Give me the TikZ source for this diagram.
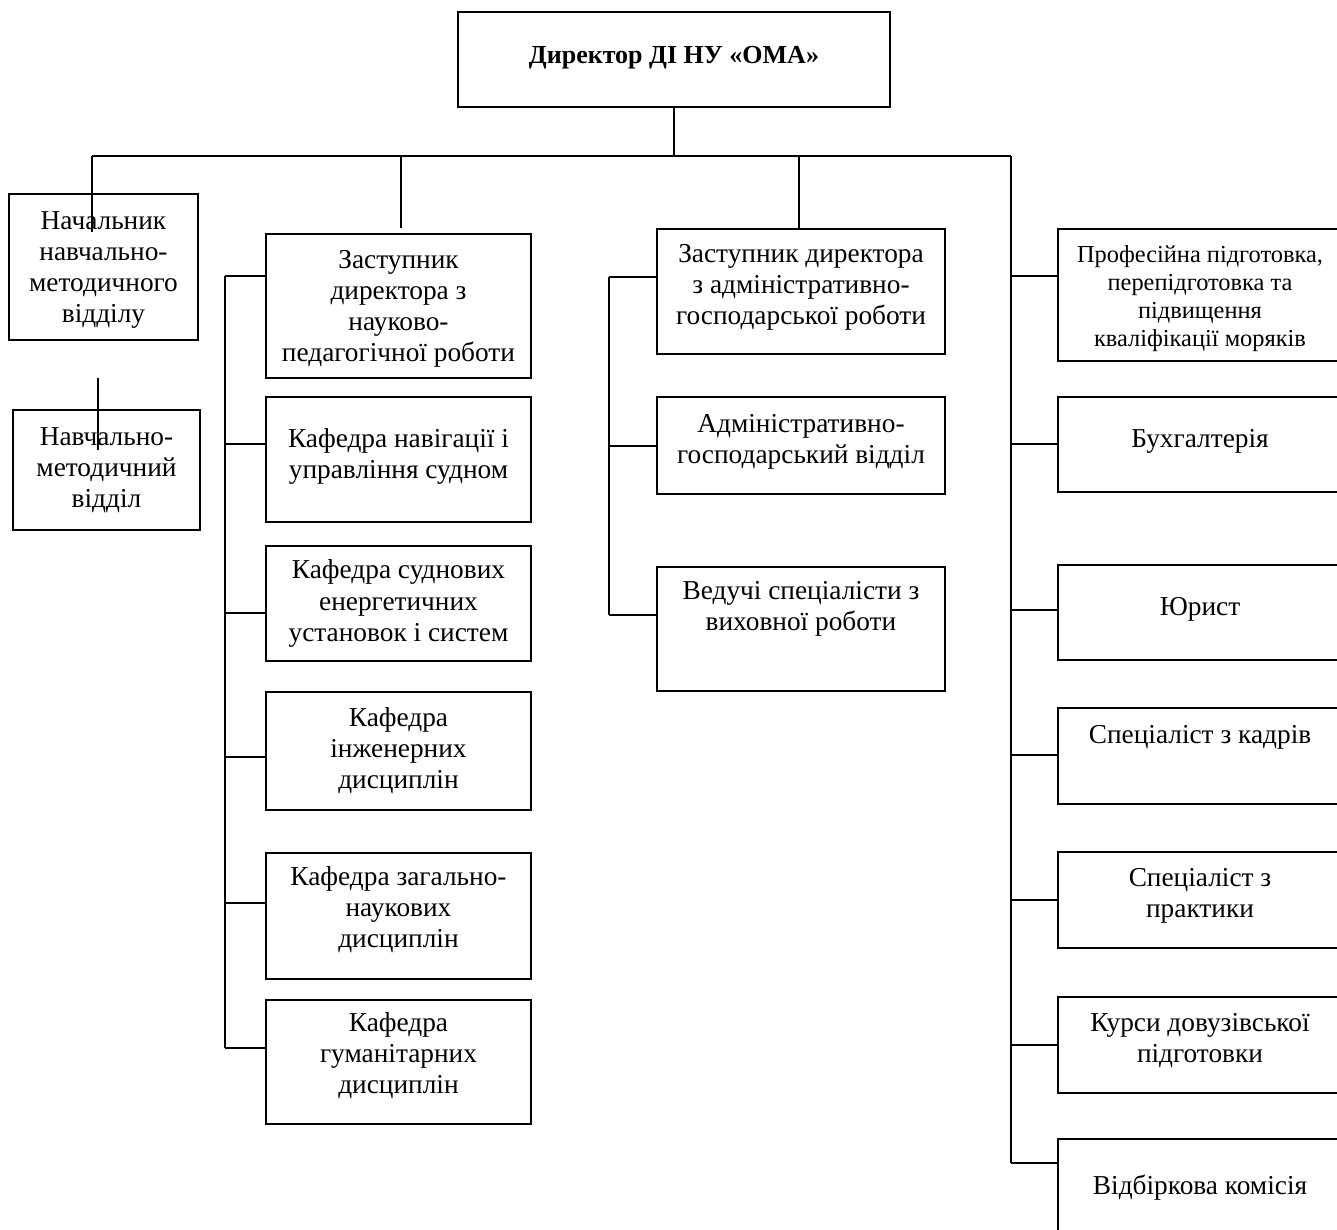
\documentclass[tikz,border=0pt]{standalone}
\usepackage{fontspec}
\setmainfont{Liberation Serif}
\tikzset{
  orgbox/.style={draw=black, line width=1.15pt, inner sep=0pt, fill=none},
  orgtxt/.style={align=center, inner sep=0pt, font=\fontsize{20.5}{23.3}\selectfont},
  conn/.style={draw=black, line width=1.15pt}
}
\newcommand\orgbox[7][]{%
  \pgfmathsetmacro\cxv{(#3+#5)/2}%
  \pgfmathsetmacro\cyv{(#4+#6)/2}%
  \pgfmathsetmacro\wv{(#5-#3)*0.75}%
  \pgfmathsetmacro\hv{(#6-#4)*0.75}%
  \node[orgbox, minimum width=\wv pt, minimum height=\hv pt] (#2) at (\cxv,\cyv) {};
  \node[orgtxt,#1] (#2t) at (#2.center) {#7};
}
\begin{document}
\begin{tikzpicture}[x=0.75pt, y=-0.75pt]
\useasboundingbox (0,0) rectangle (1337,1230);
\clip (0,0) rectangle (1337,1230);
\fill[white] (0,0) rectangle (1337,1230);

% boxes
\orgbox[font=\fontsize{19.5}{22}\selectfont\bfseries, yshift=1pt]{dir}{458}{12}{890}{107}{Директор ДІ НУ «ОМА»}
\orgbox[yshift=-2pt]{nach}{9}{194}{198}{340}{Начальник\\навчально-\\методичного\\відділу}
\orgbox{nmv}{13}{410}{200}{530}{Навчально-\\методичний\\відділ}
\orgbox[yshift=-2pt]{zn}{266}{234}{531}{378}{Заступник\\директора з\\науково-\\педагогічної роботи}
\orgbox[yshift=2pt]{ka}{266}{397}{531}{522}{Кафедра навігації і\\управління судном}
\orgbox{kb}{266}{546}{531}{661}{Кафедра суднових\\енергетичних\\установок і систем}
\orgbox{kc}{266}{692}{531}{810}{Кафедра\\інженерних\\дисциплін}
\orgbox[yshift=5pt]{kd}{266}{853}{531}{979}{Кафедра загально-\\наукових\\дисциплін}
\orgbox[yshift=5pt]{ke}{266}{1000}{531}{1124}{Кафедра\\гуманітарних\\дисциплін}
\orgbox[yshift=3pt]{za}{657}{229}{945}{354}{Заступник директора\\з адміністративно-\\господарської роботи}
\orgbox[yshift=3pt]{ag}{657}{397}{945}{494}{Адміністративно-\\господарський відділ}
\orgbox[yshift=15pt]{vs}{657}{567}{945}{691}{Ведучі спеціалісти з\\виховної роботи}
\orgbox[font=\fontsize{18.3}{21}\selectfont, yshift=-3pt]{pr}{1058}{229}{1342}{361}{Професійна підготовка,\\перепідготовка та\\підвищення\\кваліфікації моряків}
\orgbox[yshift=2pt]{bu}{1058}{397}{1342}{492}{Бухгалтерія}
\orgbox[yshift=2pt]{yu}{1058}{565}{1342}{660}{Юрист}
\orgbox[yshift=14pt]{sk}{1058}{708}{1342}{804}{Спеціаліст з кадрів}
\orgbox[yshift=3pt]{sp}{1058}{852}{1342}{948}{Спеціаліст з\\практики}
\orgbox[yshift=3pt]{ku}{1058}{997}{1342}{1093}{Курси довузівської\\підготовки}
\orgbox{vk}{1058}{1139}{1342}{1236}{Відбіркова комісія}

% main bus
\coordinate (busL) at (92,156);
\coordinate (busR) at (1011,156);
\coordinate (nachEnd) at (92,232);
\coordinate (colB) at (401,156);
\coordinate (colBEnd) at (401,228);
\coordinate (colC) at (799,156);
\draw[conn] (dir.south) -- (dir.south |- busL);
\draw[conn] (busL) -- (busR);
\draw[conn] (busL) -- (nachEnd);
\draw[conn] (colB) -- (colBEnd);
\draw[conn] (colC) -- (colC |- za.north);

% line between left boxes
\coordinate (nmTop) at (98,378);
\coordinate (nmEnd) at (98,450);
\draw[conn] (nmTop) -- (nmEnd);

% left bus
\coordinate (l1) at (225,276);
\coordinate (l2) at (225,444);
\coordinate (l3) at (225,613);
\coordinate (l4) at (225,757);
\coordinate (l5) at (225,903);
\coordinate (l6) at (225,1048);
\draw[conn] (l1) -- (l6);
\draw[conn] (l1) -- (l1 -| zn.west);
\draw[conn] (l2) -- (l2 -| ka.west);
\draw[conn] (l3) -- (l3 -| kb.west);
\draw[conn] (l4) -- (l4 -| kc.west);
\draw[conn] (l5) -- (l5 -| kd.west);
\draw[conn] (l6) -- (l6 -| ke.west);

% middle bus
\coordinate (m1) at (609,277);
\coordinate (m2) at (609,446);
\coordinate (m3) at (609,615);
\draw[conn] (m1) -- (m3);
\draw[conn] (m1) -- (m1 -| za.west);
\draw[conn] (m2) -- (m2 -| ag.west);
\draw[conn] (m3) -- (m3 -| vs.west);

% right bus
\coordinate (r1) at (1011,276);
\coordinate (r2) at (1011,444);
\coordinate (r3) at (1011,610);
\coordinate (r4) at (1011,755);
\coordinate (r5) at (1011,900);
\coordinate (r6) at (1011,1045);
\coordinate (r7) at (1011,1163);
\draw[conn] (busR) -- (r7);
\draw[conn] (r1) -- (r1 -| pr.west);
\draw[conn] (r2) -- (r2 -| bu.west);
\draw[conn] (r3) -- (r3 -| yu.west);
\draw[conn] (r4) -- (r4 -| sk.west);
\draw[conn] (r5) -- (r5 -| sp.west);
\draw[conn] (r6) -- (r6 -| ku.west);
\draw[conn] (r7) -- (r7 -| vk.west);
\end{tikzpicture}
\end{document}
